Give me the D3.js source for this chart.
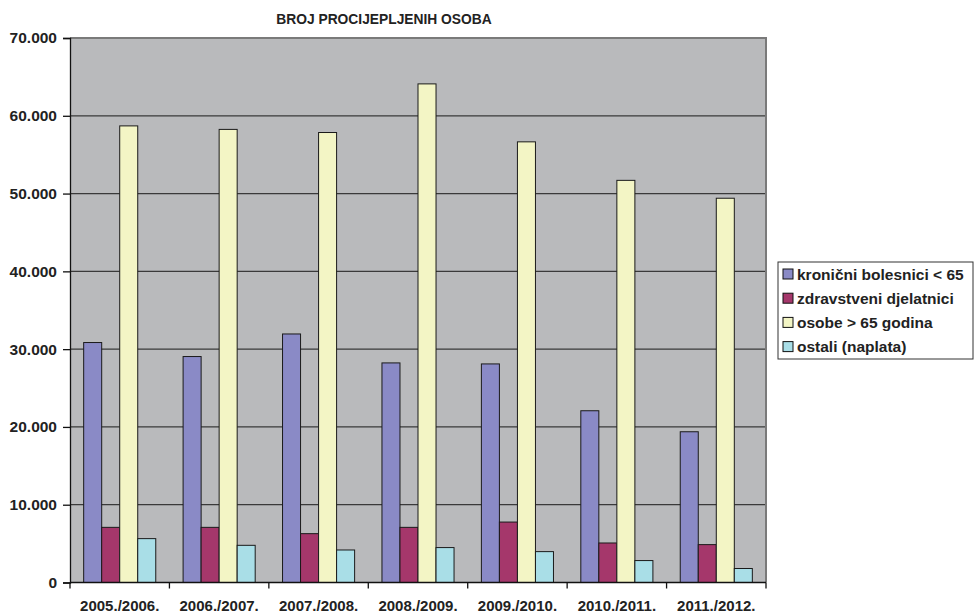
<!DOCTYPE html>
<html><head><meta charset="utf-8">
<script src="https://cdn.jsdelivr.net/npm/d3@7/dist/d3.min.js"></script>
<style>body{margin:0;background:#fff;}svg{display:block;font-family:"Liberation Sans",Arial,sans-serif;}</style>
</head><body><svg id="c" width="974" height="614"></svg>
<script>
const categories = ["2005./2006.","2006./2007.","2007./2008.","2008./2009.","2009./2010.","2010./2011.","2011./2012."];
const seriesNames = ["kronični bolesnici < 65","zdravstveni djelatnici","osobe > 65 godina","ostali (naplata)"];
const kronicni = [30850, 29050, 31950, 28230, 28100, 22080, 19380];
const zdravstveni = [7090, 7090, 6280, 7090, 7770, 5080, 4870];
const osobe = [58700, 58250, 57850, 64100, 56650, 51700, 49400];
const ostali = [5640, 4780, 4180, 4490, 3970, 2820, 1800];
const yTicks = [0,10000,20000,30000,40000,50000,60000,70000];
const colors = ["#8a8ac6","#a5376b","#f3f5c5","#a9dee7"];
const title = "BROJ PROCIJEPLJENIH OSOBA";

const series = [kronicni, zdravstveni, osobe, ostali];
const svg = d3.select("#c");
const L = 70, R = 766, T = 38, B = 582.5;
const FF = "Liberation Sans, Arial, sans-serif";

const x = d3.scaleBand().domain(categories).range([L, R]).paddingInner(0.275).paddingOuter(0.1375);
const xs = d3.scaleBand().domain(d3.range(series.length)).range([0, x.bandwidth()]);
const y = d3.scaleLinear().domain([0, 70000]).range([B, T]);
const fmt = v => v === 0 ? "0" : d3.format(",")(v).replace(/,/g, ".");

// plot background
svg.append("rect").attr("x", L).attr("y", T).attr("width", R - L).attr("height", B - T).attr("fill", "#b9babc");
// gridlines
svg.append("g").selectAll("line").data(yTicks.filter(d => d > 0 && d < 70000)).join("line")
  .attr("x1", L).attr("x2", R).attr("y1", d => y(d)).attr("y2", d => y(d))
  .attr("stroke", "#3a3a3a").attr("stroke-width", 1.3);
// plot border top/right
svg.append("path").attr("d", `M${L},${T}H${R}V${B}`).attr("fill", "none").attr("stroke", "#7a7a7a").attr("stroke-width", 2);

// bars
const g = svg.append("g");
categories.forEach((c, i) => {
  series.forEach((s, j) => {
    g.append("rect")
      .attr("x", x(c) + xs(j)).attr("y", y(s[i]))
      .attr("width", xs.bandwidth()).attr("height", B - y(s[i]))
      .attr("fill", colors[j]).attr("stroke", "#1a1a1a").attr("stroke-width", 1);
  });
});

// y axis
const yAxis = svg.append("g").attr("transform", `translate(${L},0)`)
  .call(d3.axisLeft(y).tickValues(yTicks).tickFormat(fmt).tickSize(7).tickPadding(6));
yAxis.select(".domain").attr("stroke", "#111").attr("stroke-width", 1.3);
yAxis.selectAll(".tick line").attr("stroke", "#111").attr("stroke-width", 1.3);
yAxis.selectAll("text").attr("font-size", 15.5).attr("font-weight", "bold").attr("fill", "#222")
  .attr("font-family", FF);

// x axis
const xAxis = svg.append("g").attr("transform", `translate(0,${B})`)
  .call(d3.axisBottom(x).tickSize(0).tickPadding(18));
xAxis.select(".domain").remove();
svg.append("line").attr("x1", L).attr("x2", R).attr("y1", B).attr("y2", B).attr("stroke", "#111").attr("stroke-width", 1.3);
const step = x.step();
svg.append("g").selectAll("line").data(d3.range(categories.length + 1)).join("line")
  .attr("x1", d => L + d * step).attr("x2", d => L + d * step)
  .attr("y1", B).attr("y2", B + 6).attr("stroke", "#111").attr("stroke-width", 1.3);
xAxis.selectAll("text").attr("font-size", 15).attr("font-weight", "bold").attr("fill", "#222")
  .attr("font-family", FF);

// title
svg.append("text").attr("x", 384).attr("y", 24).attr("text-anchor", "middle")
  .attr("font-size", 13.8).attr("font-weight", "bold").attr("fill", "#222").text(title);

// legend
const lg = svg.append("g");
lg.append("rect").attr("x", 778).attr("y", 262).attr("width", 195).attr("height", 97)
  .attr("fill", "#fff").attr("stroke", "#333").attr("stroke-width", 1);
seriesNames.forEach((n, j) => {
  const cy = 274 + j * 24.2;
  lg.append("rect").attr("x", 783).attr("y", cy - 5).attr("width", 10).attr("height", 10)
    .attr("fill", colors[j]).attr("stroke", "#111").attr("stroke-width", 1);
  lg.append("text").attr("x", 797).attr("y", cy + 5.5).attr("font-size", 15.5).attr("font-weight", "bold")
    .attr("fill", "#222").text(n);
});
</script></body></html>
